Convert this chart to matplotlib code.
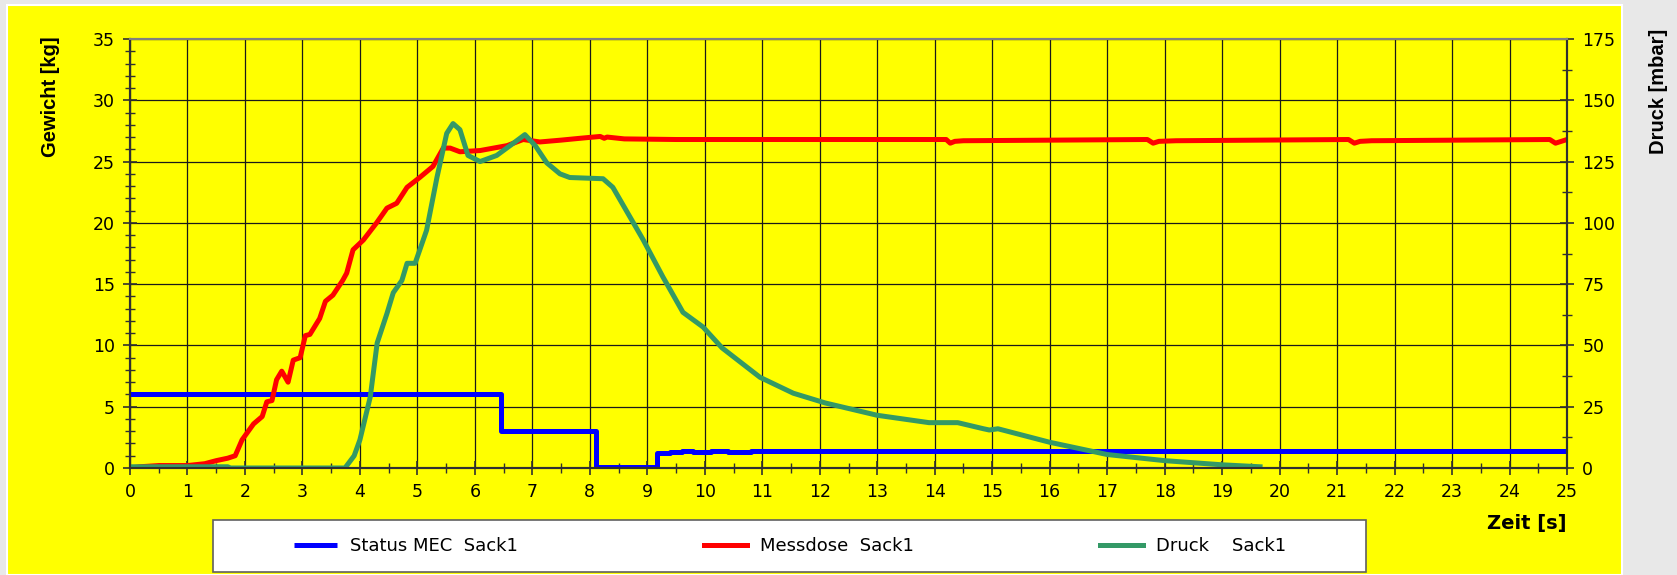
import matplotlib
matplotlib.use("Agg")
import matplotlib.pyplot as plt
from matplotlib.patches import Rectangle
from matplotlib.ticker import MultipleLocator

# Status MEC Sack1 (kg, step signal)
t_status = [0, 6.45, 8.1, 9.17, 9.4, 9.6, 9.8, 10.1, 10.4, 10.8, 11.2, 25]
status = [6.0, 3.0, 0.05, 1.2, 1.3, 1.35, 1.3, 1.35, 1.3, 1.35, 1.4, 1.4]

# Messdose Sack1 (kg)
t_mess = [0, 0.17, 0.5, 1.0, 1.3, 1.5, 1.7, 1.83, 1.95, 2.15, 2.3, 2.38, 2.47,
          2.55, 2.64, 2.75, 2.84, 2.96, 3.05, 3.13, 3.3, 3.4, 3.53, 3.7, 3.77,
          3.88, 4.06, 4.29, 4.47, 4.64, 4.82, 5.04, 5.27, 5.45, 5.57, 5.74,
          6.09, 6.56, 6.84, 7.13, 7.5, 7.83, 8.18, 8.25, 8.3, 8.6, 9.5, 14.2,
          14.27, 14.35, 14.5, 17.7, 17.8, 17.9, 18.2, 21.2, 21.3, 21.4, 21.6,
          24.7, 24.8, 24.9, 25]
mess = [0, 0.1, 0.2, 0.2, 0.35, 0.6, 0.8, 1.0, 2.3, 3.6, 4.2, 5.4, 5.5,
        7.2, 7.9, 7.0, 8.8, 9.0, 10.8, 10.9, 12.2, 13.6, 14.1, 15.3, 15.9,
        17.8, 18.6, 20.0, 21.2, 21.6, 22.9, 23.7, 24.6, 26.1, 26.1, 25.8,
        25.9, 26.3, 26.8, 26.6, 26.75, 26.9, 27.05, 26.9, 27.0, 26.85, 26.8, 26.8,
        26.5, 26.65, 26.7, 26.8, 26.5, 26.65, 26.7, 26.8, 26.5, 26.65, 26.7,
        26.8, 26.5, 26.65, 26.8]

# Druck Sack1 (mbar)
t_druck = [0, 1.7, 1.75, 3.74, 3.9, 4.0, 4.18, 4.3, 4.47, 4.58, 4.73, 4.82,
           4.96, 5.16, 5.34, 5.51, 5.62, 5.74, 5.88, 6.09, 6.38, 6.67, 6.87,
           7.05, 7.25, 7.48, 7.65, 8.23, 8.4, 8.93, 9.27, 9.62, 9.97, 10.3,
           10.96, 11.54, 12.1, 13.0, 13.9, 14.4, 14.85, 14.95, 15.1, 16.0,
           17.0, 18.0, 19.0, 19.66]
druck = [0.5, 0.5, 0, 0, 5, 11.5, 29, 51, 63, 71.5, 76.5, 83.5,
         83.5, 97, 118.5, 136.5, 140.5, 138, 127.5, 125, 127.5, 132.5, 136,
         131.5, 124.5, 120, 118.5, 118, 114.5, 93, 78, 63.5, 57.5, 49,
         37, 30.5, 26.5, 21.5, 18.5, 18.5, 16, 15.5, 16, 10.5,
         5.5, 3.0, 1.3, 0.5]

W, H = 1677, 575
fig = plt.figure(figsize=(W / 100, H / 100), dpi=100, facecolor='#e8e8e8')
plt.rcParams['font.family'] = ['DejaVu Sans']

# yellow chart area
fig.patches.append(Rectangle((7 / W, 0), (1622 - 7) / W, 1 - 5 / H,
                             transform=fig.transFigure, facecolor='#ffff00',
                             edgecolor='white', lw=1.5, zorder=-2))

ax = fig.add_axes([130 / W, 1 - 468 / H, (1567 - 130) / W, (468 - 39) / H])
ax.patch.set_visible(False)
ax2 = ax.twinx()
ax2.patch.set_visible(False)

l1, = ax.plot(t_status, status, drawstyle='steps-post', color='#0000ff',
              lw=3.6, label='Status MEC  Sack1', solid_capstyle='butt')
l2, = ax.plot(t_mess, mess, color='#ff0000', lw=3.6, label='Messdose  Sack1')
l3, = ax2.plot(t_druck, druck, color='#339966', lw=3.6, label='Druck    Sack1')

ax.set_xlim(0, 25)
ax.set_ylim(0, 35)
ax2.set_ylim(0, 175)

ax.xaxis.set_major_locator(MultipleLocator(1))
ax.xaxis.set_minor_locator(MultipleLocator(0.5))
ax.yaxis.set_major_locator(MultipleLocator(5))
ax.yaxis.set_minor_locator(MultipleLocator(1))
ax2.yaxis.set_major_locator(MultipleLocator(25))
ax2.yaxis.set_minor_locator(MultipleLocator(12.5))

ax.set_axisbelow(True)
ax.grid(which='major', color='#1a1a1a', lw=0.9)

for a in (ax, ax2):
    a.tick_params(which='major', direction='inout', length=10, width=1.2,
                  color='#303030', labelsize=12.5, pad=6)
    a.tick_params(which='minor', direction='inout', length=7, width=1.0,
                  color='#303030')
    for s in ('left', 'right', 'bottom'):
        a.spines[s].set_color('#303030')
        a.spines[s].set_linewidth(1.5)
    a.spines['top'].set_color('#808080')
    a.spines['top'].set_linewidth(1.5)

fig.text(51 / W, 1 - 97 / H, 'Gewicht [kg]', rotation=90, ha='center',
         va='center', fontsize=14.5, fontweight='bold',
         family=['Liberation Sans', 'DejaVu Sans'])
fig.text(1658 / W, 1 - 91 / H, 'Druck [mbar]', rotation=90, ha='center',
         va='center', fontsize=14.5, fontweight='bold',
         family=['Liberation Sans', 'DejaVu Sans'])
fig.text(1527 / W, 1 - 523 / H, 'Zeit [s]', ha='center', va='center',
         fontsize=14, fontweight='bold')

# legend box
fig.patches.append(Rectangle((213 / W, 3 / H), (1366 - 213) / W, 52 / H,
                             transform=fig.transFigure, facecolor='white',
                             edgecolor='#606060', lw=1.2, zorder=-1))
fig.legend(handles=[l1, l2, l3], loc='center',
           bbox_to_anchor=(790 / W, 1 - 546 / H), ncol=3, frameon=False,
           fontsize=13, handlelength=2.4, handletextpad=0.7,
           columnspacing=10.3)

fig.savefig('out.png', dpi=100, facecolor=fig.get_facecolor())
